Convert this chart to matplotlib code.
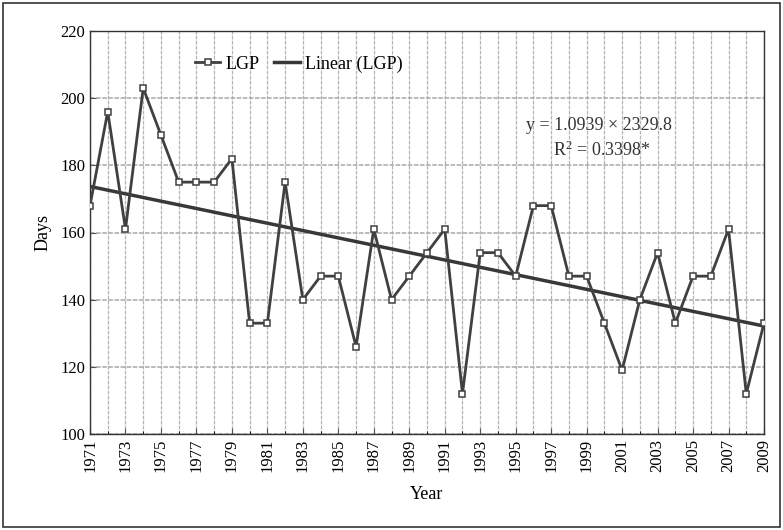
import numpy as np
import matplotlib.pyplot as plt
from matplotlib.patches import Rectangle

plt.rcParams['font.family'] = ['Liberation Serif', 'DejaVu Serif']
plt.rcParams['mathtext.fontset'] = 'custom'
plt.rcParams['mathtext.rm'] = 'Liberation Serif'
plt.rcParams['mathtext.it'] = 'Liberation Serif'

years = list(range(1971, 2010))
lgp = [168, 196, 161, 203, 189, 175, 175, 175, 182, 133,
       133, 175, 140, 147, 147, 126, 161, 140, 147, 154,
       161, 112, 154, 154, 147, 168, 168, 147, 147, 133,
       119, 140, 154, 133, 147, 147, 161, 112, 133]
xtick_years = list(range(1971, 2010, 2))
yticks = [100, 120, 140, 160, 180, 200, 220]

x = np.array(years)
y = np.array(lgp)
slope, icpt = np.polyfit(x, y, 1)

fig = plt.figure(figsize=(7.83, 5.30), dpi=100)
ax = fig.add_axes([90/783, 1-434/530, (764-90)/783, (434-31)/530])

# grid
for yr in years:
    ax.axvline(yr, color='#b4b4b4', lw=0.9, ls=(0, (3, 1)), zorder=0)
for v in yticks:
    ax.axhline(v, color='#a8a8a8', lw=1.1, ls=(0, (3, 1)), zorder=0)

ax.plot(x, y, color='#404040', lw=2, marker='s', ms=4.5, mfc='white',
        mec='#404040', mew=1.1, label='LGP', zorder=3)
ax.plot(x, slope*x + icpt, color='#383838', lw=2.5, label='Linear (LGP)', zorder=2)

ax.set_xlim(1971, 2009)
ax.set_ylim(100, 220)
ax.set_xticks(xtick_years)
ax.set_xticklabels([str(t) for t in xtick_years], rotation=90, fontsize=12)
ax.set_xticks(years, minor=True)
ax.set_yticks(yticks)
ax.set_yticklabels([str(t) for t in yticks], fontsize=12)
ax.tick_params(axis='both', direction='in', length=4, color='#555555')
ax.tick_params(axis='x', which='minor', direction='in', length=2)
for s in ax.spines.values():
    s.set_linestyle((0, (3, 1)))
    s.set_color('#333333')
    s.set_linewidth(1)

ax.set_xlabel('Year', fontsize=13, labelpad=10)
ax.set_ylabel('Days', fontsize=13, labelpad=6)

ax.legend(loc='upper center', bbox_to_anchor=(0.31, 0.98), ncol=2, frameon=False,
          fontsize=13, handlelength=1.4, handletextpad=0.3, columnspacing=0.8)

ax.text(0.755, 0.765, 'y = 1.0939 \u00d7 2329.8', transform=ax.transAxes,
        ha='center', va='center', fontsize=13, color='#333333')
ax.text(0.76, 0.705, 'R$^{2}$ = 0.3398*', transform=ax.transAxes,
        ha='center', va='center', fontsize=13, color='#333333')

fig.patches.append(Rectangle((3/783, 3/530), 777/783, 524/530, transform=fig.transFigure,
                             fill=False, ec='#333333', lw=1.2))

fig.savefig('out.png', dpi=100)
